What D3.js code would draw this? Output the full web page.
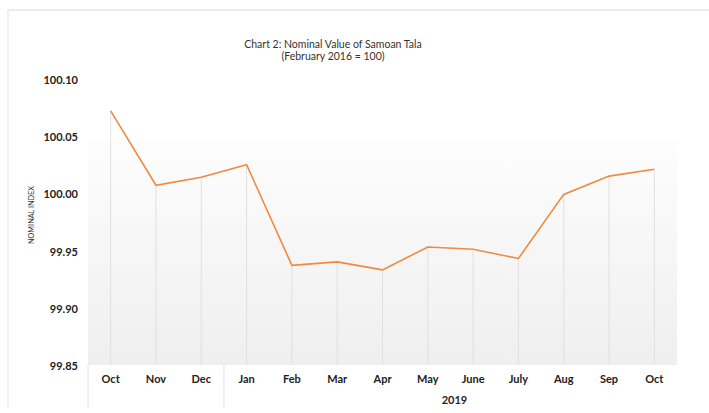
<!DOCTYPE html>
<html>
<head>
<meta charset="utf-8">
<script src="https://cdn.jsdelivr.net/npm/d3@7"></script>
<style>
  body { margin: 0; background: #fff; }
  text { font-family: Lato, "Open Sans", sans-serif; }
</style>
</head>
<body>
<div id="vis"></div>
<script>
// chart data
const months = ["Oct", "Nov", "Dec", "Jan", "Feb", "Mar", "Apr", "May", "June", "July", "Aug", "Sep", "Oct"];
const years = ["2018", "2018", "2018", "2019", "2019", "2019", "2019", "2019", "2019", "2019", "2019", "2019", "2019"];
const values = [100.073, 100.008, 100.015, 100.026, 99.938, 99.941, 99.934, 99.954, 99.952, 99.944, 100.000, 100.016, 100.022];
const yTicks = [99.85, 99.90, 99.95, 100.00, 100.05, 100.10];
const yearLabels = ["2019"];

const W = 709, H = 413;
const plot = { left: 88, right: 677, top: 80, bottom: 366 };

const svg = d3.select("#vis")
  .append("svg")
  .attr("width", W)
  .attr("height", H);

// outer frame
svg.append("line").attr("x1", 8).attr("x2", W).attr("y1", 10).attr("y2", 10)
  .attr("stroke", "#ececec").attr("stroke-width", 2);
svg.append("line").attr("x1", 8).attr("x2", 8).attr("y1", 10).attr("y2", 408)
  .attr("stroke", "#ececec").attr("stroke-width", 1.5);

const idx = d3.range(values.length);
const x = d3.scaleBand().domain(idx).range([plot.left, plot.right]).padding(0);
const cx = i => x(i) + x.bandwidth() / 2;
const y = d3.scaleLinear().domain([99.85, 100.10]).range([plot.bottom, plot.top]);

// plot background gradient
const defs = svg.append("defs");
const grad = defs.append("linearGradient")
  .attr("id", "bg").attr("x1", 0).attr("x2", 0).attr("y1", 0).attr("y2", 1);
grad.append("stop").attr("offset", "0%").attr("stop-color", "#fdfdfd");
grad.append("stop").attr("offset", "100%").attr("stop-color", "#efefef");

svg.append("rect")
  .attr("x", plot.left).attr("y", 140)
  .attr("width", plot.right - plot.left).attr("height", plot.bottom - 1 - 140)
  .attr("fill", "url(#bg)");

// drop lines
svg.append("g")
  .selectAll("line")
  .data(idx)
  .enter()
  .append("line")
  .attr("x1", i => cx(i))
  .attr("x2", i => cx(i))
  .attr("y1", i => y(values[i]))
  .attr("y2", plot.bottom - 1)
  .attr("stroke", "#e0e0e0")
  .attr("stroke-width", 1);

// category axis frame
svg.append("line").attr("x1", plot.left).attr("x2", plot.left).attr("y1", plot.bottom - 1).attr("y2", 408)
  .attr("stroke", "#e2e2e2");
const firstYearIdx = years.indexOf(yearLabels[0]);
svg.append("line").attr("x1", x(firstYearIdx)).attr("x2", x(firstYearIdx))
  .attr("y1", plot.bottom - 1).attr("y2", 408)
  .attr("stroke", "#e2e2e2");

// x axis
svg.append("g")
  .attr("transform", `translate(0, ${plot.bottom})`)
  .call(d3.axisBottom(x).tickSize(0).tickPadding(9).tickFormat(i => months[i]))
  .call(g => g.select(".domain").remove())
  .selectAll("text")
  .attr("font-size", "11px")
  .attr("font-weight", "bold")
  .attr("fill", "#222");

// year group label
yearLabels.forEach(yr => {
  const ids = idx.filter(i => years[i] === yr);
  const x0 = x(ids[0]);
  const x1 = x(ids[ids.length - 1]) + x.bandwidth();
  svg.append("text")
    .attr("x", (x0 + x1) / 2 + 4)
    .attr("y", 404)
    .attr("text-anchor", "middle")
    .attr("font-size", "11px")
    .attr("font-weight", "bold")
    .attr("fill", "#222")
    .text(yr);
});

// y axis
svg.append("g")
  .attr("transform", `translate(${plot.left - 10}, 0)`)
  .call(d3.axisLeft(y).tickValues(yTicks).tickSize(0).tickPadding(0).tickFormat(d3.format(".2f")))
  .call(g => g.select(".domain").remove())
  .selectAll("text")
  .attr("font-size", "11px")
  .attr("font-weight", "bold")
  .attr("fill", "#222");

svg.append("text")
  .attr("transform", `translate(34, 215) rotate(-90)`)
  .attr("text-anchor", "middle")
  .attr("font-size", "7.5px")
  .attr("textLength", 58)
  .attr("lengthAdjust", "spacingAndGlyphs")
  .attr("fill", "#333")
  .text("NOMINAL INDEX");

// line
const line = d3.line()
  .x(i => cx(i))
  .y(i => y(values[i]));

svg.append("path")
  .datum(idx)
  .attr("fill", "none")
  .attr("stroke", "#ef8a3f")
  .attr("stroke-width", 1.6)
  .attr("d", line);

// title
svg.append("text")
  .attr("x", 333).attr("y", 48)
  .attr("text-anchor", "middle")
  .attr("font-size", "10.5px")
  .attr("fill", "#333")
  .text("Chart 2: Nominal Value of Samoan Tala");
svg.append("text")
  .attr("x", 333).attr("y", 60)
  .attr("text-anchor", "middle")
  .attr("font-size", "10.5px")
  .attr("fill", "#333")
  .text("(February 2016 = 100)");
</script>
</body>
</html>
